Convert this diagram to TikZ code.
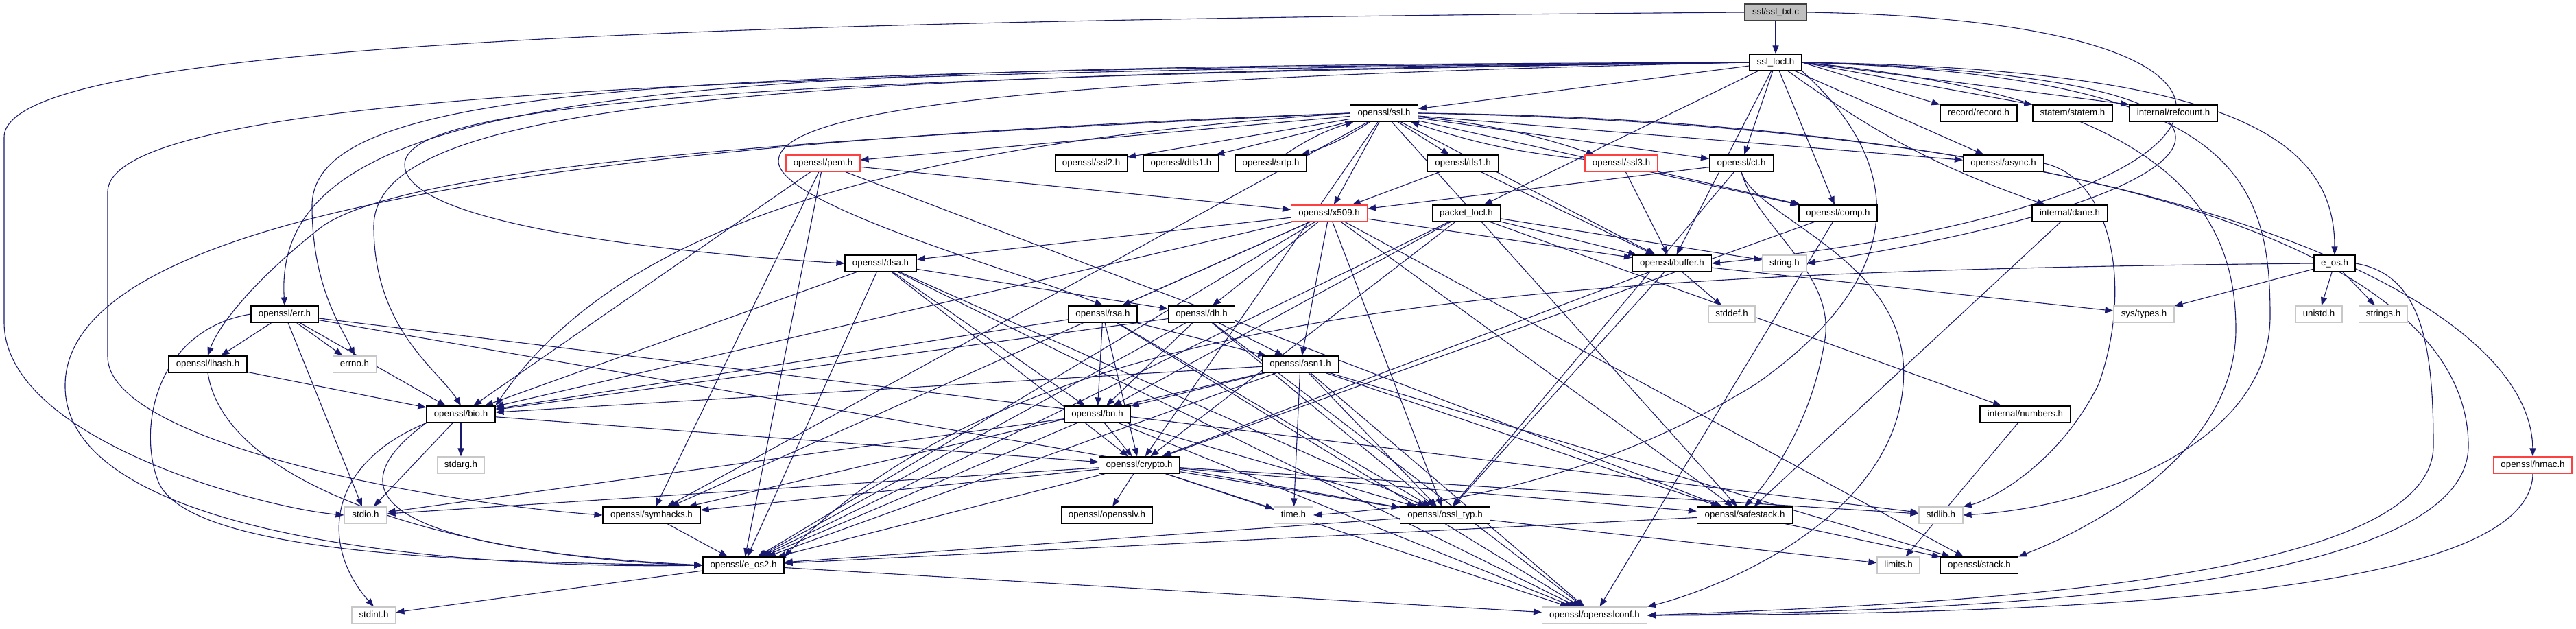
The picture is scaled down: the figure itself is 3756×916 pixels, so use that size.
\documentclass[tikz,border=0pt]{standalone}
\usepackage{fontspec}
\setmainfont{Liberation Sans}
\usetikzlibrary{arrows.meta}
\pgfdeclarelayer{edgelayer}
\pgfsetlayers{edgelayer,main}
\definecolor{edgec}{HTML}{191970}
\definecolor{sysg}{HTML}{C8C8C8}
\definecolor{truncr}{HTML}{FF4040}
\definecolor{rootfill}{HTML}{BFBFBF}
\newcommand\ndfont{\fontsize{13.3pt}{16pt}\selectfont}
\begin{document}
\begin{tikzpicture}[x=1pt,y=-1pt,
  nd/.style={draw=black, line width=1.2pt, fill=white, minimum height=24pt, inner xsep=2pt, inner ysep=0pt, text height=9.5pt, text depth=2.7pt, font=\ndfont},
  sysnd/.style={nd, draw=sysg},
  trnd/.style={nd, draw=truncr},
  e/.style={draw=edgec, line width=1.1pt, -{Triangle[length=12pt,width=9pt]}}]
\path[use as bounding box] (0,0) rectangle (3756,916);
% row 0-2
\node[nd, fill=rootfill, draw=black!75, minimum width=90pt] (txt) at (2589,18) {ssl/ssl\_txt.c};
\node[nd, minimum width=76pt] (locl) at (2589,91) {ssl\_locl.h};
\node[nd, minimum width=99pt] (ssl) at (2018,165) {openssl/ssl.h};
\node[nd, minimum width=112pt] (record) at (2885,165) {record/record.h};
\node[nd, minimum width=116pt] (statem) at (3022,165) {statem/statem.h};
\node[nd, minimum width=128pt] (refcount) at (3169,165) {internal/refcount.h};
% row 3
\node[trnd, minimum width=108pt] (pem) at (1200,238) {openssl/pem.h};
\node[nd, minimum width=105pt] (ssl2) at (1591,238) {openssl/ssl2.h};
\node[nd, minimum width=110pt] (dtls1) at (1722,238) {openssl/dtls1.h};
\node[nd, minimum width=104pt] (srtp) at (1853,238) {openssl/srtp.h};
\node[nd, minimum width=103pt] (tls1) at (2133,238) {openssl/tls1.h};
\node[trnd, minimum width=106pt] (ssl3) at (2364,238) {openssl/ssl3.h};
\node[nd, minimum width=93pt] (ct) at (2539,238) {openssl/ct.h};
\node[nd, minimum width=117pt] (async) at (2921,238) {openssl/async.h};
% row 4
\node[trnd, minimum width=111pt] (x509) at (1938,311) {openssl/x509.h};
\node[nd, minimum width=99pt] (packet) at (2138,311) {packet\_locl.h};
\node[nd, minimum width=114pt] (comp) at (2680,311) {openssl/comp.h};
\node[nd, minimum width=110pt] (dane) at (3018,311) {internal/dane.h};
% row 5
\node[nd, minimum width=104pt] (dsa) at (1284,384) {openssl/dsa.h};
\node[nd, minimum width=115pt] (buffer) at (2438,384) {openssl/buffer.h};
\node[sysnd, minimum width=64pt] (string) at (2602,384) {string.h};
\node[nd, minimum width=60pt] (eos) at (3404,384) {e\_os.h};
% row 6
\node[nd, minimum width=98pt] (err) at (415,458) {openssl/err.h};
\node[nd, minimum width=100pt] (rsa) at (1608,458) {openssl/rsa.h};
\node[nd, minimum width=97pt] (dh) at (1752,458) {openssl/dh.h};
\node[sysnd, minimum width=68pt] (stddef) at (2525,458) {stddef.h};
\node[sysnd, minimum width=88pt] (systypes) at (3126,458) {sys/types.h};
\node[sysnd, minimum width=68pt] (unistd) at (3381,458) {unistd.h};
\node[sysnd, minimum width=71pt] (strings) at (3475,458) {strings.h};
% row 7
\node[nd, minimum width=114pt] (lhash) at (303,531) {openssl/lhash.h};
\node[sysnd, minimum width=63pt] (errno) at (517,531) {errno.h};
\node[nd, minimum width=111pt] (asn1) at (1896,531) {openssl/asn1.h};
% row 8
\node[nd, minimum width=100pt] (bio) at (672,604) {openssl/bio.h};
\node[nd, minimum width=96pt] (bn) at (1600,604) {openssl/bn.h};
\node[nd, minimum width=132pt] (numbers) at (2953,604) {internal/numbers.h};
% row 9
\node[sysnd, minimum width=69pt] (stdarg) at (672,678) {stdarg.h};
\node[nd, minimum width=117pt] (crypto) at (1661,678) {openssl/crypto.h};
\node[trnd, minimum width=114pt] (hmac) at (3693,678) {openssl/hmac.h};
% row 10
\node[sysnd, minimum width=62pt] (stdio) at (533,751) {stdio.h};
\node[nd, minimum width=142pt] (symhacks) at (950,751) {openssl/symhacks.h};
\node[nd, minimum width=133pt] (opensslv) at (1614,751) {openssl/opensslv.h};
\node[sysnd, minimum width=57pt] (time) at (1886,751) {time.h};
\node[nd, minimum width=131pt] (ossltyp) at (2107,751) {openssl/ossl\_typ.h};
\node[nd, minimum width=139pt] (safestack) at (2544,751) {openssl/safestack.h};
\node[sysnd, minimum width=64pt] (stdlib) at (2830,751) {stdlib.h};
% row 11-12
\node[nd, minimum width=118pt] (eos2) at (1084,824) {openssl/e\_os2.h};
\node[sysnd, minimum width=62pt] (limits) at (2768,824) {limits.h};
\node[nd, minimum width=113pt] (stack) at (2886,824) {openssl/stack.h};
\node[sysnd, minimum width=64pt] (stdint) at (545,897) {stdint.h};
\node[sysnd, minimum width=153pt] (conf) at (2325,897) {openssl/opensslconf.h};

\begin{pgfonlayer}{edgelayer}
% ---- edges from ssl_txt.c
\draw[e] (txt) -- (locl);
\draw[e] (txt.west) .. controls (900,30) and (6,70) .. (6,200) -- (6,470) .. controls (6,640) and (380,740) .. (stdio.west);
\draw[e] (txt.east) .. controls (3420,30) and (3320,300) .. (buffer.east);
% ---- edges from ssl_locl.h
\draw[e] (locl) -- (ssl);
\draw[e] (locl.east) -- (record.north west);
\draw[e] (locl.east) -- (statem.north west);
\draw[e] (locl.east) -- (refcount.north west);
\draw[e] (locl) -- (async);
\draw[e] (locl) to[bend right=8] (dane);
\draw[e] (locl) -- (ct);
\draw[e] (locl) -- (comp);
\draw[e] (locl) -- (packet);
\draw[e] (locl) -- (buffer);
\draw[e] (locl.east) .. controls (3400,110) and (3300,280) .. (string.east);
\draw[e] (locl.east) .. controls (3250,100) and (3404,200) .. (eos.north);
\draw[e] (locl.east) .. controls (3250,110) and (3310,250) .. (3310,460) .. controls (3310,650) and (3050,740) .. (stdlib.east);
\draw[e] (locl.east) .. controls (3150,140) and (3260,300) .. (3260,480) .. controls (3260,660) and (3050,770) .. (stack.north east);
\draw[e] (locl.south east) .. controls (2800,260) and (2760,420) .. (2560,560) .. controls (2300,720) and (2050,740) .. (time.east);
\draw[e] (locl.west) .. controls (1000,96) and (395,120) .. (err.north);
\draw[e] (locl.west) .. controls (1000,102) and (455,120) .. (455,300) .. controls (455,420) and (500,480) .. (errno.north);
\draw[e] (locl.west) .. controls (1100,108) and (545,150) .. (545,330) .. controls (545,480) and (640,540) .. (bio.north);
\draw[e] (locl.west) .. controls (1100,112) and (590,150) .. (590,240) .. controls (590,330) and (1000,370) .. (dsa.west);
\draw[e] (locl.west) .. controls (1200,104) and (157,130) .. (157,280) -- (157,520) .. controls (157,640) and (600,730) .. (symhacks.west);
\draw[e] (locl.west) .. controls (1600,112) and (1135,150) .. (1135,235) .. controls (1135,300) and (1500,400) .. (rsa.north);
% ---- edges from openssl/ssl.h
\draw[e] (ssl) -- (ssl2);
\draw[e] (ssl) -- (dtls1);
\draw[e] (ssl) to[bend left=8] (srtp);
\draw[e] (srtp) to[bend left=8] (ssl);
\draw[e] (ssl) -- (tls1);
\draw[e] (ssl) to[bend left=6] (ssl3);
\draw[e] (ssl3) to[bend left=6] (ssl);
\draw[e] (ssl) -- (ct);
\draw[e] (ssl) -- (pem);
\draw[e] (ssl) -- (x509);
\draw[e] (ssl) -- (comp);
\draw[e] (ssl) -- (async);
\draw[e] (ssl) -- (buffer);
\draw[e] (ssl) -- (crypto);
\draw[e] (ssl) -- (safestack);
\draw[e] (ssl) -- (symhacks);
\draw[e] (ssl.east) .. controls (3100,175) and (3690,420) .. (hmac.north);
\draw[e] (ssl.east) .. controls (3100,185) and (3599,380) .. (3599,650) .. controls (3599,860) and (2900,890) .. (conf.east);
\draw[e] (ssl.west) .. controls (1200,200) and (600,240) .. (470,330) .. controls (380,400) and (320,470) .. (lhash.north);
\draw[e] (ssl.west) .. controls (1300,210) and (900,330) .. (bio.north east);
\draw[e] (ssl.west) .. controls (900,205) and (100,300) .. (95,560) .. controls (90,790) and (700,830) .. (eos2.west);
% ---- tls1, ssl3, ct, comp, async, dane
\draw[e] (tls1) -- (x509);
\draw[e] (tls1) -- (buffer);
\draw[e] (ssl3) -- (comp);
\draw[e] (ssl3) -- (buffer);
\draw[e] (ct) -- (x509);
\draw[e] (ct) -- (ossltyp);
\draw[e] (ct.south) .. controls (2560,330) and (2680,400) .. (2660,500) .. controls (2640,620) and (2580,700) .. (safestack.north);
\draw[e] (ct.south) .. controls (2560,320) and (2790,380) .. (2775,560) .. controls (2760,760) and (2500,860) .. (conf.north east);
\draw[e] (comp) -- (crypto);
\draw[e] (comp) -- (conf);
\draw[e] (async.east) .. controls (3080,260) and (3110,420) .. (3060,560) .. controls (3000,680) and (2900,730) .. (stdlib.north east);
\draw[e] (dane) -- (safestack);
% ---- packet_locl.h, numbers
\draw[e] (packet) -- (string);
\draw[e] (packet) -- (buffer);
\draw[e] (packet) -- (bn);
\draw[e] (packet) -- (crypto);
\draw[e] (packet) -- (eos2);
\draw[e] (packet) -- (numbers);
\draw[e] (numbers) -- (limits);
% ---- e_os.h, hmac.h
\draw[e] (eos) -- (systypes);
\draw[e] (eos) -- (unistd);
\draw[e] (eos) -- (strings);
\draw[e] (eos.west) .. controls (2200,395) and (1500,450) .. (eos2.north east);
\draw[e] (eos.east) .. controls (3530,400) and (3548,500) .. (3548,650) .. controls (3548,850) and (2850,880) .. (conf.east);
\draw[e] (hmac.south) .. controls (3690,860) and (3100,895) .. (conf.east);
% ---- buffer.h
\draw[e] (buffer) -- (stddef);
\draw[e] (buffer) -- (systypes);
\draw[e] (buffer) -- (crypto);
\draw[e] (buffer) -- (ossltyp);
% ---- x509.h
\draw[e] (x509) -- (eos2);
\draw[e] (x509) -- (ossltyp);
\draw[e] (x509) -- (symhacks);
\draw[e] (x509) -- (buffer);
\draw[e] (x509) -- (bio);
\draw[e] (x509) -- (stack);
\draw[e] (x509) -- (asn1);
\draw[e] (x509) -- (safestack);
\draw[e] (x509) -- (rsa);
\draw[e] (x509) -- (dsa);
\draw[e] (x509) -- (dh);
% ---- pem.h
\draw[e] (pem) -- (x509);
\draw[e] (pem) -- (bio);
\draw[e] (pem) -- (eos2);
\draw[e] (pem) -- (safestack);
\draw[e] (pem) -- (symhacks);
% ---- dsa.h
\draw[e] (dsa) -- (conf);
\draw[e] (dsa) -- (eos2);
\draw[e] (dsa) -- (bio);
\draw[e] (dsa) -- (crypto);
\draw[e] (dsa) -- (ossltyp);
\draw[e] (dsa) -- (bn);
\draw[e] (dsa) -- (dh);
% ---- rsa.h
\draw[e] (rsa) -- (conf);
\draw[e] (rsa) -- (asn1);
\draw[e] (rsa) -- (bio);
\draw[e] (rsa) -- (crypto);
\draw[e] (rsa) -- (ossltyp);
\draw[e] (rsa) -- (bn);
% ---- dh.h
\draw[e] (dh) -- (conf);
\draw[e] (dh) -- (eos2);
\draw[e] (dh) -- (bio);
\draw[e] (dh) -- (asn1);
\draw[e] (dh) -- (ossltyp);
\draw[e] (dh) -- (bn);
% ---- asn1.h
\draw[e] (asn1) -- (time);
\draw[e] (asn1) -- (eos2);
\draw[e] (asn1) -- (conf);
\draw[e] (asn1) -- (bio);
\draw[e] (asn1) -- (safestack);
\draw[e] (asn1) -- (symhacks);
\draw[e] (asn1) -- (ossltyp);
\draw[e] (asn1) -- (bn);
\draw[e] (asn1) -- (stack);
% ---- bn.h
\draw[e] (bn) -- (eos2);
\draw[e] (bn) -- (stdio);
\draw[e] (bn) -- (conf);
\draw[e] (bn) -- (ossltyp);
\draw[e] (bn) -- (crypto);
% ---- err.h, lhash.h
\draw[e] (err) -- (lhash);
\draw[e] (err) -- (errno);
\draw[e] (err) -- (bio);
\draw[e] (err) -- (stdio);
\draw[e] (err) -- (stdlib);
\draw[e] (err) -- (ossltyp);
\draw[e] (err.west) .. controls (230,480) and (200,620) .. (230,700) .. controls (270,810) and (700,820) .. (eos2.west);
\draw[e] (lhash) -- (bio);
\draw[e] (lhash.south) .. controls (330,720) and (700,815) .. (eos2.west);
% ---- bio.h
\draw[e] (bio) -- (stdarg);
\draw[e] (bio) -- (stdio);
\draw[e] (bio) -- (crypto);
\draw[e] (bio.south west) .. controls (470,680) and (470,800) .. (stdint.north);
\draw[e] (bio.south west) .. controls (480,720) and (560,800) .. (eos2.west);
% ---- crypto.h
\draw[e] (crypto) -- (stdlib);
\draw[e] (crypto) -- (time);
\draw[e] (crypto) -- (eos2);
\draw[e] (crypto) -- (stdio);
\draw[e] (crypto) -- (safestack);
\draw[e] (crypto) -- (opensslv);
\draw[e] (crypto) -- (ossltyp);
\draw[e] (crypto) -- (conf);
\draw[e] (crypto) -- (symhacks);
% ---- leaves
\draw[e] (safestack) -- (stack);
\draw[e] (safestack) -- (eos2);
\draw[e] (symhacks) -- (eos2);
\draw[e] (ossltyp) -- (eos2);
\draw[e] (ossltyp) -- (limits);
\draw[e] (eos2) -- (conf);
\draw[e] (eos2) -- (stdint);
\end{pgfonlayer}
\end{tikzpicture}
\end{document}
